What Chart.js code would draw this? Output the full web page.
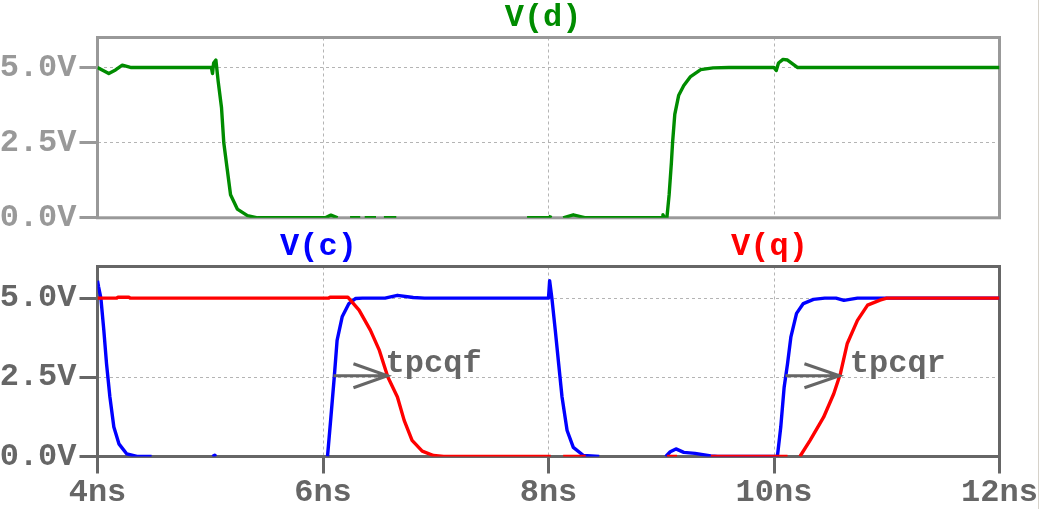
<!DOCTYPE html>
<html><head><meta charset="utf-8">
<script src="https://cdn.jsdelivr.net/npm/chart.js@4.4.0/dist/chart.umd.min.js"></script>
<style>
html,body{margin:0;padding:0;background:#fff;width:1040px;height:509px;overflow:hidden;}
#edge{position:absolute;left:1038px;top:0;width:1px;height:509px;background:#d6d2ca;}
#cTop{position:absolute;left:0;top:0;}
#cBot{position:absolute;left:0;top:230px;}
</style></head><body>
<canvas id="cTop" width="1040" height="240"></canvas>
<canvas id="cBot" width="1040" height="279"></canvas>
<div id="edge"></div>
<script>
// ---- tick values / labels ----
const xTicks = [4, 6, 8, 10, 12];
const xTickLabels = ['4ns', '6ns', '8ns', '10ns', '12ns'];
const yTicks = [0, 2.5, 5];
const yTickLabels = ['0.0V', '2.5V', '5.0V'];

// ---- V(d) (ns, V) ; null = trace hidden behind frame ----
const dTime = [4.00, 4.05, 4.10, 4.16, 4.22, 4.30, 5.01, 5.02, 5.03, 5.05, 5.07, 5.10, 5.12, 5.15, 5.18, 5.24, 5.33, 5.42,
  6.02, 6.07, 6.13, 6.14, 6.24, 6.33, 6.34, 6.37, 6.47, 6.48, 6.54, 6.65, 6.66, 7.81, 8.01, 8.02, 8.03, 8.13, 8.22, 8.33,
  9.01, 9.015, 9.03, 9.05, 9.07, 9.09, 9.10, 9.12, 9.155, 9.20, 9.26, 9.35, 9.46, 9.60, 10.00, 10.02, 10.04, 10.08, 10.12, 10.21, 12.00];
const dVolt = [5.0, 4.9, 4.8, 4.92, 5.08, 5.0, 5.0, 4.8, 5.15, 5.25, 4.55, 3.66, 2.5, 1.63, 0.77, 0.29, 0.07, 0,
  0, 0.09, 0, null, 0, 0, null, 0, 0, null, 0, 0, null, 0, 0, 0.08, null, 0, 0.1, 0,
  0, 0.1, 0, 0, 0.77, 1.84, 2.48, 3.44, 4.08, 4.4, 4.7, 4.93, 4.99, 5.0, 5.0, 4.9, 5.15, 5.27, 5.25, 5.0, 5.0];

// ---- V(c) ----
const cTime = [4.00, 4.01, 4.03, 4.056, 4.08, 4.11, 4.145, 4.19, 4.26, 4.35, 4.48, 4.49, 5.02, 5.04, 5.05, 5.06,
  6.04, 6.07, 6.10, 6.125, 6.17, 6.23, 6.29, 6.35, 6.55, 6.66, 6.80, 6.90, 8.00, 8.01, 8.03, 8.06, 8.09, 8.12, 8.165, 8.22, 8.31, 8.45, 8.46,
  9.04, 9.08, 9.13, 9.20, 9.30, 9.44, 9.50, 10.03, 10.06, 10.09, 10.12, 10.15, 10.20, 10.26, 10.35, 10.45, 10.55, 10.62, 10.74, 11.00, 12.00];
const cVolt = [5.55, 5.35, 5.0, 3.99, 2.93, 1.88, 0.93, 0.40, 0.08, 0, 0, null, 0, 0.04, 0, null,
  0, 1.24, 2.51, 3.67, 4.41, 4.83, 4.99, 5.0, 5.0, 5.09, 5.02, 5.0, 5.0, 5.55, 5.0, 3.99, 2.93, 1.88, 0.82, 0.29, 0.03, 0, null,
  0, 0.15, 0.24, 0.13, 0.1, 0.02, 0, 0, 0.93, 2.19, 2.93, 3.78, 4.52, 4.83, 4.96, 5.0, 5.0, 4.93, 5.0, 5.0, 5.0];

// ---- V(q) ----
const qTime = [4.00, 4.17, 4.18, 4.28, 4.29, 6.05, 6.06, 6.22, 6.32, 6.42, 6.50, 6.575, 6.66, 6.72, 6.79, 6.88, 6.98, 7.07,
  8.02, 8.03, 8.13, 8.33, 8.34, 9.05, 9.14, 9.15, 9.44, 10.12, 10.13,
  10.23, 10.32, 10.44, 10.53, 10.59, 10.65, 10.74, 10.83, 10.94, 11.00, 12.00];
const qVolt = [5.0, 5.0, 5.03, 5.03, 5.0, 5.0, 5.03, 5.03, 4.62, 3.99, 3.35, 2.51, 1.88, 1.14, 0.51, 0.17, 0.03, 0,
  0, null, 0, 0, null, 0, 0, null, 0, 0, null,
  0, 0.51, 1.24, 1.98, 2.63, 3.57, 4.30, 4.78, 4.94, 5.0, 5.0];

// ---- annotations (ns / V) ----
const annText = ['tpcqf', 'tpcqr'];
const annFrom = [6.093, 10.102];
const annTo = [6.572, 10.581];
const annLevel = [2.55, 2.55];
const annHeadBack = [6.27, 10.27];
const annHeadSpread = [0.38, 0.38];
const annTextX = [6.555, 10.672];
const annTextY = [2.66, 2.66];

const FONT = 'bold 32px "Liberation Mono"';
const pts = (t, v) => t.map((x, i) => ({x: x, y: v[i]}));

const panelPlugin = {
  id: 'panel',
  beforeDatasetsDraw(chart, args, o) {
    const {ctx, chartArea: a} = chart;
    ctx.save();
    ctx.strokeStyle = o.frameColor; ctx.lineWidth = 3;
    ctx.strokeRect(a.left, a.top, a.right - a.left, a.bottom - a.top);
    ctx.restore();
  },
  afterDatasetsDraw(chart, args, o) {
    const {ctx, chartArea: a, scales} = chart;
    ctx.save();
    ctx.font = FONT; ctx.textAlign = 'center'; ctx.textBaseline = 'middle';
    chart.data.datasets.forEach((ds, i) => {
      ctx.fillStyle = ds.borderColor;
      ctx.fillText(ds.label, a.left + (a.right - a.left) * o.labelPos[i], a.top - 20);
    });
    if (o.annotate) {
      const X = scales.x, Y = scales.y;
      ctx.strokeStyle = '#666666'; ctx.fillStyle = '#666666'; ctx.lineWidth = 3;
      annText.forEach((t, i) => {
        const y = Y.getPixelForValue(annLevel[i]);
        const x0 = X.getPixelForValue(annFrom[i]), x1 = X.getPixelForValue(annTo[i]);
        const hx = X.getPixelForValue(annHeadBack[i]);
        const hy1 = Y.getPixelForValue(annLevel[i] + annHeadSpread[i]);
        const hy2 = Y.getPixelForValue(annLevel[i] - annHeadSpread[i]);
        ctx.beginPath();
        ctx.moveTo(x0, y); ctx.lineTo(x1, y);
        ctx.moveTo(hx, hy1); ctx.lineTo(x1, y); ctx.lineTo(hx, hy2);
        ctx.stroke();
        ctx.textAlign = 'left'; ctx.textBaseline = 'alphabetic';
        ctx.fillText(t, X.getPixelForValue(annTextX[i]), Y.getPixelForValue(annTextY[i]));
      });
    }
    ctx.restore();
  }
};

function makeChart(id, datasets, tickColor, frameColor, showX, padTop, padBottom, xHeight, labelPos, annotate) {
  return new Chart(document.getElementById(id), {
    type: 'line',
    data: {datasets: datasets},
    options: {
      responsive: false, animation: false, devicePixelRatio: 1,
      layout: {padding: {top: padTop, right: 40.5, bottom: padBottom, left: 0}},
      plugins: {legend: {display: false}, tooltip: {enabled: false}, title: {display: false},
        panel: {frameColor: frameColor, labelPos: labelPos, annotate: annotate}},
      elements: {point: {radius: 0}, line: {borderWidth: 3.4, tension: 0, borderJoinStyle: 'round'}},
      scales: {
        x: {
          type: 'linear', min: 4, max: 12,
          afterBuildTicks: s => { s.ticks = xTicks.map(v => ({value: v})); },
          afterFit: s => { s.height = xHeight; },
          border: {display: false, dash: [3, 3]},
          grid: {
            color: c => (c.tick && (c.tick.value === xTicks[0] || c.tick.value === xTicks[xTicks.length - 1])) ? 'rgba(0,0,0,0)' : '#b4b4b4',
            lineWidth: 1, drawTicks: showX, tickLength: 17, tickWidth: 3, tickColor: tickColor, tickBorderDash: []
          },
          ticks: {display: showX, padding: 0, color: tickColor, font: {family: 'Liberation Mono', size: 32, weight: 'bold'},
            maxRotation: 0, autoSkip: false,
            callback: v => xTickLabels[xTicks.indexOf(v)]}
        },
        y: {
          min: 0, max: 6,
          afterBuildTicks: s => { s.ticks = yTicks.map(v => ({value: v})); },
          afterFit: s => { s.width = 97.5; },
          border: {display: false, dash: [3, 3]},
          grid: {
            color: c => (c.tick && c.tick.value === yTicks[0]) ? 'rgba(0,0,0,0)' : '#b4b4b4',
            lineWidth: 1, drawTicks: true, tickLength: 18, tickWidth: 3, tickColor: tickColor, tickBorderDash: []
          },
          ticks: {padding: 3, color: tickColor, font: {family: 'Liberation Mono', size: 32, weight: 'bold'},
            callback: v => yTickLabels[yTicks.indexOf(v)]}
        }
      }
    },
    plugins: [panelPlugin]
  });
}

makeChart('cTop', [
  {label: 'V(d)', data: pts(dTime, dVolt), borderColor: '#008c00'}
], '#999999', '#999999', false, 37.5, 15.5, 0, [0.494], false);

makeChart('cBot', [
  {label: 'V(c)', data: pts(cTime, cVolt), borderColor: '#0000ff', order: 2},
  {label: 'V(q)', data: pts(qTime, qVolt), borderColor: '#ff0000', order: 1}
], '#666666', '#666666', true, 36.5, 0, 52.5, [0.245, 0.745], true);
</script>
</body></html>
